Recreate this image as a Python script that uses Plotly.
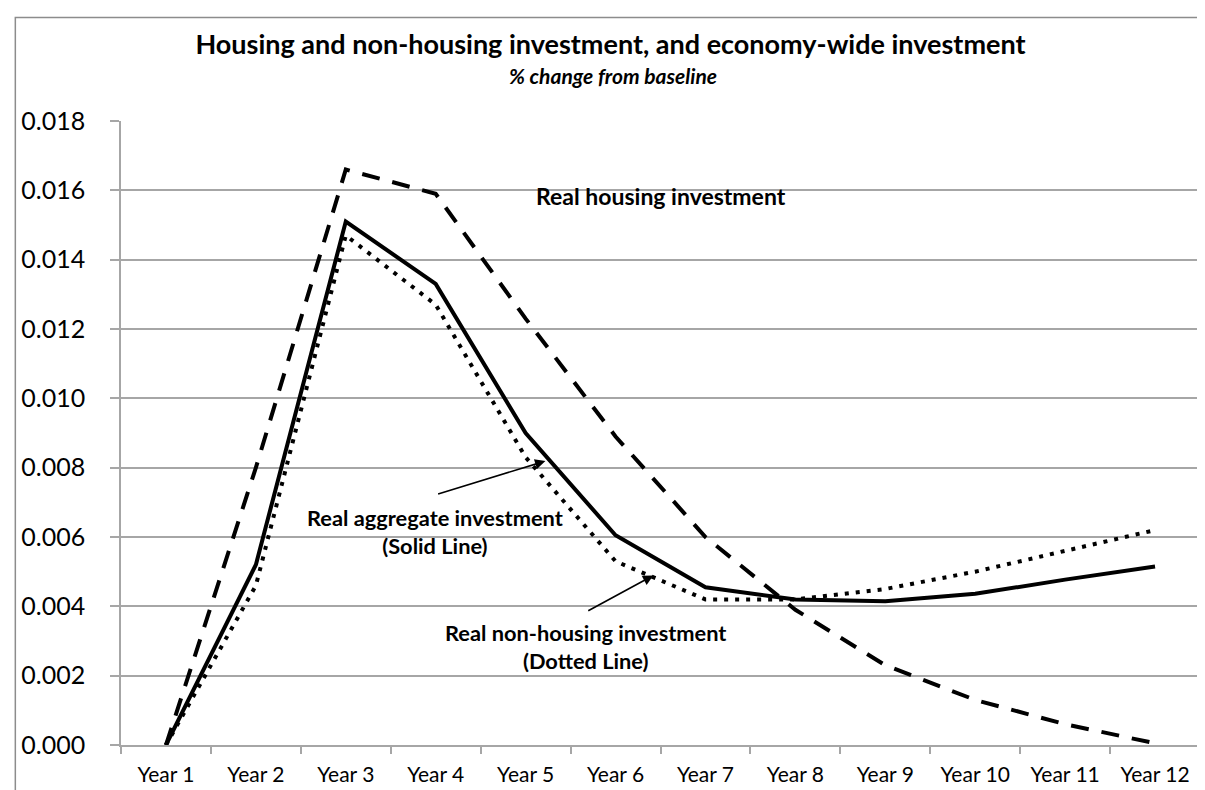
import plotly.graph_objects as go

years = ["Year 1", "Year 2", "Year 3", "Year 4", "Year 5", "Year 6",
         "Year 7", "Year 8", "Year 9", "Year 10", "Year 11", "Year 12"]
aggregate = [0.0, 0.0052, 0.0151, 0.0133, 0.0090, 0.00605, 0.00455,
             0.0042, 0.00415, 0.00436, 0.00477, 0.00515]
housing = [0.0, 0.0080, 0.0166, 0.0159, 0.0123, 0.0089, 0.0060,
           0.0039, 0.0023, 0.0013, 0.0006, 0.00005]
non_housing = [0.0, 0.0046, 0.0147, 0.0127, 0.0083, 0.0053, 0.0042,
               0.0042, 0.0045, 0.0050, 0.0056, 0.0062]
y_ticks = [0.000, 0.002, 0.004, 0.006, 0.008, 0.010, 0.012, 0.014, 0.016, 0.018]

FONT = "Lato, 'Open Sans', sans-serif"
GRID = "#a6a6a6"

fig = go.Figure()
fig.add_trace(go.Scatter(x=years, y=housing, mode="lines", name="Real housing investment",
                         line=dict(color="black", width=4, dash="18px,13px")))
fig.add_trace(go.Scatter(x=years, y=non_housing, mode="lines", name="Real non-housing investment",
                         line=dict(color="black", width=4, dash="4px,7px")))
fig.add_trace(go.Scatter(x=years, y=aggregate, mode="lines", name="Real aggregate investment",
                         line=dict(color="black", width=4)))

fig.update_layout(
    width=1205, height=790,
    margin=dict(l=113, r=13, t=113, b=50),
    paper_bgcolor="white", plot_bgcolor="white",
    showlegend=False,
    font=dict(family=FONT, color="black"),
    title=dict(text="<b>Housing and non-housing investment, and economy-wide investment</b>",
               x=0.5, xanchor="center", y=1 - 37 / 790, yanchor="middle",
               font=dict(family=FONT, size=27, color="black")),
)
fig.update_xaxes(
    type="category", range=[-0.5, 11.5],
    showline=True, linecolor=GRID, linewidth=1.5,
    ticks="outside", tickson="boundaries", ticklen=7, tickcolor=GRID, tickwidth=1.5,
    showgrid=False, tickfont=dict(family=FONT, size=21, color="black"),
    ticklabelstandoff=10,
)
fig.update_yaxes(
    range=[0, 0.018], tickvals=y_ticks, tickformat=".3f",
    showline=True, linecolor=GRID, linewidth=1.5,
    ticks="outside", ticklen=9, tickcolor=GRID, tickwidth=1.5,
    showgrid=True, gridcolor=GRID, gridwidth=1.5, zeroline=False,
    tickfont=dict(family=FONT, size=25, color="black"),
    ticklabelstandoff=20,
)

annots = [
    dict(text="<b><i>% change from baseline</i></b>", xref="paper", yref="paper",
         x=(605 - 112.7) / 1079.3, y=(740 - 67) / 627, showarrow=False,
         font=dict(size=21), xanchor="center", yanchor="middle"),
    dict(text="<b>Real housing investment</b>", xref="x", yref="y", x=5.5, y=0.01583,
         showarrow=False, font=dict(size=23), xanchor="center", yanchor="middle"),
    dict(text="<b>Real aggregate investment<br>(Solid Line)</b>", xref="x", yref="y",
         x=2.99, y=0.00615, showarrow=False, font=dict(size=21.8),
         xanchor="center", yanchor="middle"),
    dict(text="<b>Real non-housing investment<br>(Dotted Line)</b>", xref="x", yref="y",
         x=4.665, y=0.00285, showarrow=False, font=dict(size=21.8),
         xanchor="center", yanchor="middle"),
    dict(text="", xref="x", yref="y", axref="x", ayref="y",
         x=4.22, y=0.00819, ax=3.01, ay=0.00723, showarrow=True,
         arrowhead=2, arrowsize=1.3, arrowwidth=1.6, arrowcolor="black"),
    dict(text="", xref="x", yref="y", axref="x", ayref="y",
         x=5.42, y=0.00489, ax=4.68, ay=0.00385, showarrow=True,
         arrowhead=2, arrowsize=1.3, arrowwidth=1.6, arrowcolor="black"),
]
fig.update_layout(annotations=annots)

fig.add_shape(type="rect", xref="paper", yref="paper",
              x0=(7 - 112.7) / 1079.3, x1=1.3, y0=-0.3, y1=(740 - 9) / 627,
              line=dict(color="#8c8c8c", width=1.5), fillcolor="rgba(0,0,0,0)", layer="below")

fig.write_html("out.html")
